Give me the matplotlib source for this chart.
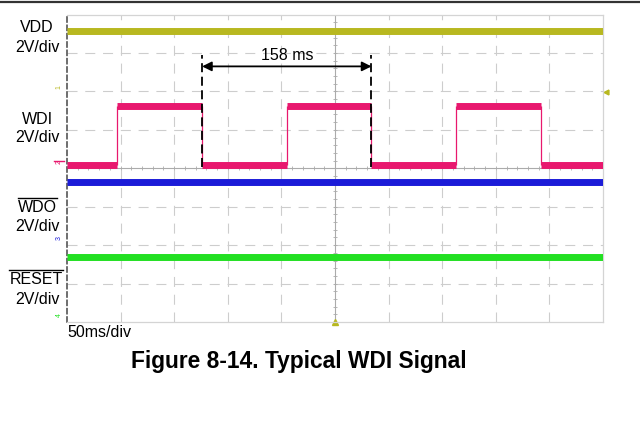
import matplotlib
matplotlib.use("Agg")
import matplotlib.pyplot as plt
from matplotlib.lines import Line2D

plt.rcParams['font.family'] = ['Liberation Sans', 'DejaVu Sans']

# scope settings: 10 horizontal divs of 50 ms, 8 vertical divs
t_span = 500.0            # ms across the screen
n_vdiv = 8

# trace levels in divisions (screen centre = 0)
vdd_level = 3.57
wdi_high = 1.62
wdi_low = 0.08
wdo_level = -0.35
reset_level = -2.32

# WDI edges in ms
wdi_rise = [47, 205, 363]
wdi_fall = [126, 284, 442]

# channel ground markers (div) and colours
ch_names = ['1', '2', '3', '4']
ch_marks = [2.14, 0.18, -1.8, -3.8]
ch_colors = ['#b8b820', '#e8186e', '#1c1cd8', '#22e022']

period_label = '158 ms'

fig = plt.figure(figsize=(6.4, 4.35), dpi=100)
ax = fig.add_axes([67/640, 1-323/435, 536/640, 307.5/435])
ax.set_xlim(0, t_span)
ax.set_ylim(-n_vdiv/2, n_vdiv/2)
ax.set_xticks([])
ax.set_yticks([])
for side in ['top', 'right', 'bottom']:
    ax.spines[side].set_color('#d4d4d4')
    ax.spines[side].set_linewidth(0.9)
ax.spines['left'].set_color('#555555')
ax.spines['left'].set_linestyle((0, (3, 2)))
ax.spines['left'].set_linewidth(1.2)

# graticule
gcol = '#cdcdcd'
for i in range(1, 10):
    if i != 5:
        ax.axvline(i*50, color=gcol, lw=0.8, ls=(0, (9, 7)), zorder=0)
for j in range(-3, 4):
    if j != 0:
        ax.axhline(j, color=gcol, lw=0.8, ls=(0, (9, 7)), zorder=0)
ax.axhline(0, color='#ababab', lw=0.8, zorder=0)
ax.axvline(250, color='#ababab', lw=0.8, zorder=0)
minor_t = [k*10 for k in range(1, 50)]
ax.plot(minor_t, [0]*len(minor_t), ls='none', marker='|', ms=3, mew=0.6, color='#ababab', zorder=0)
minor_v = [k*0.2 - 4 for k in range(1, 40)]
ax.plot([250]*len(minor_v), minor_v, ls='none', marker='_', ms=3, mew=0.6, color='#ababab', zorder=0)

lw_trace = 5.0

# VDD, WDO, RESET: flat rails
ax.hlines(vdd_level, 0, t_span, color=ch_colors[0], lw=lw_trace, zorder=3)
ax.hlines(wdo_level, 0, t_span, color=ch_colors[2], lw=lw_trace, zorder=3)
ax.hlines(reset_level, 0, t_span, color=ch_colors[3], lw=lw_trace, zorder=3)

# WDI pulse train
lows_start = [0] + wdi_fall
lows_end = wdi_rise + [t_span]
ax.hlines([wdi_low]*len(lows_start), lows_start, lows_end, color=ch_colors[1], lw=lw_trace, zorder=3)
ax.hlines([wdi_high]*len(wdi_rise), wdi_rise, wdi_fall, color=ch_colors[1], lw=lw_trace, zorder=3)
ax.vlines(wdi_rise + wdi_fall, wdi_low, wdi_high, color=ch_colors[1], lw=0.9, zorder=3)

# period measurement
p0, p1 = wdi_fall[0], wdi_fall[1]
ax.vlines([p0, p1], wdi_low - 0.05, 2.95, color='black', lw=1.3, ls=(0, (5, 2.5)), zorder=4)
ax.annotate('', xy=(p0, 2.65), xytext=(p1, 2.65),
            arrowprops=dict(arrowstyle='<|-|>', color='black', lw=1.3,
                            mutation_scale=14, shrinkA=0, shrinkB=0), zorder=5)
ax.text((p0 + p1)/2, 2.95, period_label, ha='center', va='center', fontsize=11.5)

# channel ground markers
for name, lvl, c in zip(ch_names, ch_marks, ch_colors):
    ax.text(-4, lvl, name, rotation=90, ha='right', va='center', fontsize=5,
            color=c, clip_on=False)
ax.plot([-12, -3], [ch_marks[1], ch_marks[1]], color=ch_colors[1], lw=1.0, clip_on=False)

# trigger markers
ax.plot([t_span + 3], [1.99], marker='<', ms=3.5, color=ch_colors[0], clip_on=False)
ax.plot([250], [-4.0], marker='^', ms=4.5, color=ch_colors[0], clip_on=False)

# channel labels
def flabel(px, py, s, bar=False):
    t = fig.text(px/640, 1 - py/435, s, ha='center', va='center', fontsize=11.5)
    if bar:
        fig.canvas.draw()
        bb = t.get_window_extent()
        yb = bb.y1 + 2.0
        fig.add_artist(Line2D([bb.x0/640, bb.x1/640], [yb/435, yb/435],
                              color='black', lw=1.0))
    return t

flabel(37, 28, 'VDD')
flabel(37, 47, '2V/div')
flabel(37, 120, 'WDI')
flabel(37, 138, '2V/div')
flabel(37, 208, 'WDO', bar=True)
flabel(37, 227, '2V/div')
flabel(36, 280, 'RESET', bar=True)
flabel(37, 299, '2V/div')

fig.text(67/640, 1 - 333/435, '50ms/div', ha='left', va='center', fontsize=11.5)
fig.text(299/640, 1 - 362/435, 'Figure 8-14. Typical WDI Signal', ha='center', va='center',
         fontsize=16.4, fontweight='bold')

fig.add_artist(Line2D([0, 1], [1 - 3/435, 1 - 3/435], color='#333333', lw=1.6))

fig.savefig('out.png', dpi=100)
